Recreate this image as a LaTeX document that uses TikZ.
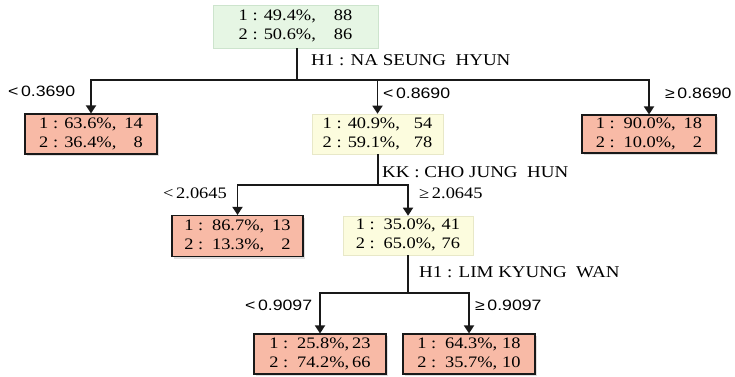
\documentclass[tikz,border=0pt]{standalone}
\usepackage{fontspec}
\setmainfont{Liberation Serif}[FakeStretch=1.15]
\newfontfamily\lblsans{Liberation Sans}[FakeStretch=1.18]
\usetikzlibrary{arrows.meta,shadows}
\definecolor{salmonfill}{RGB}{248,186,166}
\definecolor{greenfill}{RGB}{230,246,228}
\definecolor{greenedge}{RGB}{205,228,205}
\definecolor{yellowfill}{RGB}{252,252,222}
\definecolor{yellowedge}{RGB}{232,232,200}
\definecolor{linec}{RGB}{25,25,25}
\tikzset{
  boxbase/.style={rectangle, inner sep=0pt, minimum height=40pt,
    font=\fontsize{16}{19}\selectfont},
  rootbox/.style={boxbase, fill=greenfill, draw=greenedge, line width=0.6pt},
  midbox/.style={boxbase, fill=yellowfill, draw=yellowedge, line width=0.6pt},
  leafbox/.style={boxbase, fill=salmonfill, draw=linec, line width=1.1pt,
    drop shadow={opacity=0.25, shadow xshift=2pt, shadow yshift=-2pt}},
  conn/.style={draw=linec, line width=1.8pt},
  arr/.style={conn, -{Triangle[width=10pt,length=8pt]}},
  splitlbl/.style={anchor=west, inner sep=0pt, font=\fontsize{16.5}{19}\selectfont},
  cutserif/.style={anchor=west, inner sep=0pt, font=\fontsize{16}{18}\selectfont},
  cutsans/.style={anchor=west, inner sep=0pt, font=\lblsans\fontsize{15}{17}\selectfont}
}
\newcommand{\twolines}[5]{\begin{tabular}{@{}l@{\hspace{#5}}r@{}}1 : #1\%, & #2\\ 2 : #3\%, & #4\end{tabular}}
\begin{document}
\begin{tikzpicture}[x=1pt,y=-1pt]
\useasboundingbox[fill=white] (0,0) rectangle (735,376);

% nodes
\node[rootbox, minimum width=165pt, minimum height=43pt] (root) at (295.5,26.5)
  {\twolines{49.4}{88}{50.6}{86}{18pt}};
\node[leafbox, minimum width=132pt] (n1) at (91,134)
  {\twolines{63.6}{14}{36.4}{8}{8pt}};
\node[midbox, minimum width=131pt] (n2) at (377.5,134)
  {\twolines{40.9}{54}{59.1}{78}{14pt}};
\node[leafbox, minimum width=134pt, minimum height=38pt] (n3) at (649,134)
  {\twolines{\,90.0}{18}{\,10.0}{2}{8pt}};
\node[leafbox, minimum width=131pt, minimum height=41pt] (n4) at (237.5,236)
  {\twolines{\,86.7}{13}{\,13.3}{2}{8pt}};
\node[midbox, minimum width=130pt, minimum height=39pt] (n5) at (408,235.5)
  {\twolines{\,35.0}{41}{\,65.0}{76}{6pt}};
\node[leafbox, minimum width=132pt] (n6) at (320,354)
  {\twolines{\,25.8}{23}{\,74.2}{66}{3pt}};
\node[leafbox, minimum width=132pt] (n7) at (469,354)
  {\twolines{\,64.3}{18}{\,35.7}{10}{5pt}};

% junction coordinates
\coordinate (j1) at (297,80);
\coordinate (j2) at (378,185);
\coordinate (j3) at (408,293);

% connectors
\draw[conn] (root.south -| j1) -- (j1);
\draw[arr] (j1) -| (n1.north);
\draw[arr] (j1) -| (n3.north);
\draw[arr] (j1) -| (n2.north);

\draw[conn] (n2.south -| j2) -- (j2);
\draw[arr] (j2) -| (n4.north);
\draw[arr] (j2) -| (n5.north);

\draw[conn] (n5.south -| j3) -- (j3);
\draw[arr] (j3) -| (n6.north);
\draw[arr] (j3) -| (n7.north);

% split labels
\node[splitlbl] (s1) at (311,60) {H1 : NA SEUNG\ \ HYUN};
\node[splitlbl] (s2) at (382,172) {KK : CHO JUNG\ \ HUN};
\node[splitlbl] (s3) at (419,272) {H1 : LIM KYUNG\ \ WAN};

% cut labels
\node[cutsans] (c1) at (8,91) {<\,0.3690};
\node[cutsans] (c2) at (383,93) {<\,0.8690};
\node[cutsans] (c3) at (665,93) {≥\,0.8690};
\node[cutserif] (c4) at (163,193) {<\,2.0645};
\node[cutserif] (c5) at (419,193) {≥\,2.0645};
\node[cutsans] (c6) at (245,305) {<\,0.9097};
\node[cutsans] (c7) at (475,305) {≥\,0.9097};
\end{tikzpicture}
\end{document}
